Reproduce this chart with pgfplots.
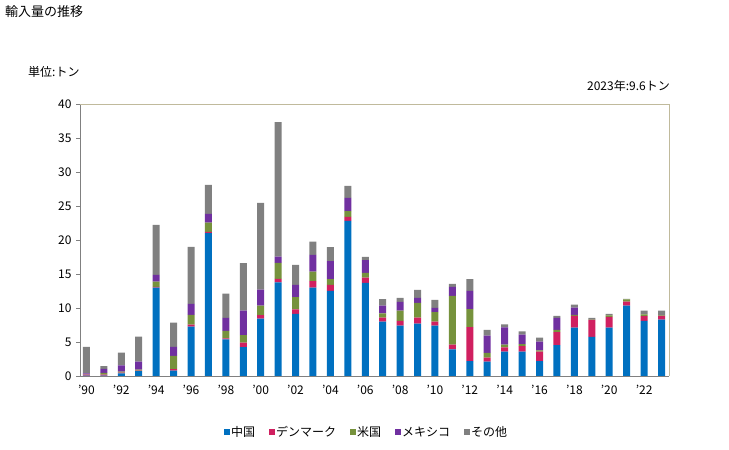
\documentclass[border=0pt]{standalone}
\usepackage{pgfplots}
\pgfplotsset{compat=1.18}
\usepackage{fontspec}
\setmainfont{Noto Sans CJK JP}
\definecolor{cblue}{RGB}{0,112,192}
\definecolor{cred}{RGB}{208,32,96}
\definecolor{cgreen}{RGB}{118,146,60}
\definecolor{cpurple}{RGB}{112,48,160}
\definecolor{cgray}{RGB}{128,128,128}
\definecolor{ctan}{RGB}{192,186,156}
\pgfplotstableread{
year china denmark usa mexico other
1990 0.05 0.15 0.05 0.15 3.90
1991 0.05 0.15 0.25 0.60 0.40
1992 0.40 0.10 0.15 0.90 1.90
1993 0.70 0.10 0.15 1.15 3.70
1994 13.00 0.12 0.75 1.00 7.35
1995 0.80 0.20 1.95 1.35 3.55
1996 7.25 0.30 1.45 1.60 8.40
1997 21.00 0.20 1.35 1.30 4.25
1998 5.40 0.15 1.10 1.90 3.55
1999 4.25 0.65 1.10 3.60 7.00
2000 8.45 0.50 1.40 2.35 12.75
2001 13.75 0.55 2.35 0.90 19.80
2002 9.15 0.65 1.80 1.80 2.95
2003 13.00 0.95 1.40 2.45 1.95
2004 12.50 0.90 0.85 2.65 2.05
2005 22.80 0.60 0.85 1.95 1.75
2006 13.70 0.75 0.70 1.90 0.45
2007 8.00 0.60 0.60 1.15 0.95
2008 7.40 0.70 1.50 1.30 0.60
2009 7.70 0.90 2.15 0.75 1.15
2010 7.40 0.60 1.40 0.60 1.20
2011 3.90 0.70 7.20 1.30 0.45
2012 2.20 5.00 2.65 2.65 1.75
2013 2.10 0.60 0.70 2.55 0.85
2014 3.60 0.60 0.40 2.55 0.45
2015 3.60 0.80 0.30 1.40 0.45
2016 2.20 1.40 0.15 1.30 0.60
2017 4.55 1.90 0.35 1.75 0.30
2018 7.10 1.75 0.15 1.05 0.45
2019 5.75 2.50 0.05 0.00 0.25
2020 7.10 1.60 0.20 0.00 0.25
2021 10.35 0.60 0.30 0.00 0.10
2022 8.10 0.70 0.25 0.00 0.55
2023 8.30 0.55 0.05 0.00 0.70
}\datatable
\begin{document}
\begin{tikzpicture}
\path[use as bounding box] (0pt,0pt) rectangle (729pt,450pt);
\node[anchor=west, font=\fontsize{13}{15}\selectfont, inner sep=0] at (5pt,438pt) {輸入量の推移};
\node[anchor=west, font=\fontsize{12}{14}\selectfont, inner sep=0] at (28pt,378pt) {単位:トン};
\node[anchor=east, font=\fontsize{12}{14}\selectfont, inner sep=0] at (670pt,364pt) {2023年:9.6トン};
\begin{axis}[
  at={(80pt,74pt)}, anchor=south west,
  scale only axis, width=589pt, height=272pt,
  ybar stacked, bar width=7pt,
  xmin=1989.63, xmax=2023.43, ymin=0, ymax=40,
  axis x line*=bottom, axis y line*=left,
  axis line style={draw=gray, line width=0.8pt},
  ytick={0,5,...,40},
  xtick={1990,1992,...,2022},
  xticklabels={'90,'92,'94,'96,'98,'00,'02,'04,'06,'08,'10,'12,'14,'16,'18,'20,'22},
  xtick style={draw=none},
  ytick style={draw=gray, line width=0.8pt},
  tick align=outside, major tick length=4pt,
  /pgf/number format/assume math mode=true,
  tick label style={font=\fontsize{12}{14}\selectfont},
  yticklabel style={xshift=-1pt},
  xticklabel style={yshift=-2pt},
  legend columns=5,
  legend style={at={(0.4856,-0.206)}, anchor=center, draw=none,
    font=\fontsize{12}{14}\selectfont,
    /tikz/every even column/.append style={column sep=12pt},
    nodes={inner sep=1.5pt}},
  legend image code/.code={\fill[#1] (0pt,-3pt) rectangle (6pt,3pt);},
  clip=false,
]
\addplot[fill=cblue, draw=none] table[x=year, y=china] {\datatable};
\addlegendentry{中国}
\addplot[fill=cred, draw=none] table[x=year, y=denmark] {\datatable};
\addlegendentry{デンマーク}
\addplot[fill=cgreen, draw=none] table[x=year, y=usa] {\datatable};
\addlegendentry{米国}
\addplot[fill=cpurple, draw=none] table[x=year, y=mexico] {\datatable};
\addlegendentry{メキシコ}
\addplot[fill=cgray, draw=none] table[x=year, y=other] {\datatable};
\addlegendentry{その他}
\draw[ctan, line width=0.8pt] (rel axis cs:0,1) -- (rel axis cs:1,1) -- (rel axis cs:1,0);
\end{axis}
\end{tikzpicture}
\end{document}
